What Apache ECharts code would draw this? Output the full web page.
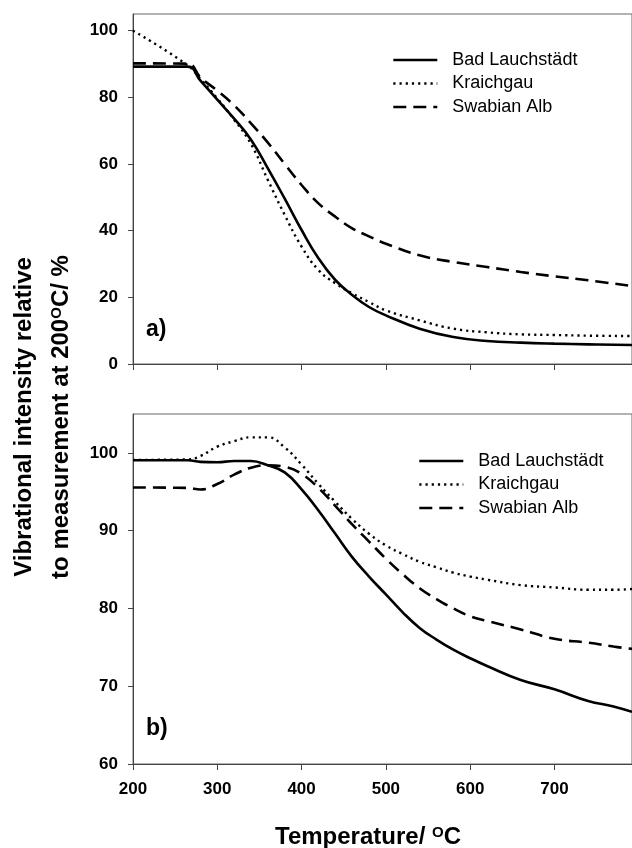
<!DOCTYPE html>
<html>
<head>
<meta charset="utf-8">
<script src="https://cdn.jsdelivr.net/npm/echarts@6/dist/echarts.min.js"></script>
<style>
html,body{margin:0;padding:0;background:#fff;}
#chart{width:632px;height:848px;}
</style>
</head>
<body>
<div id="chart"></div>
<script>
// ---------- data ----------
const seriesNames = ['Bad Lauchstädt', 'Kraichgau', 'Swabian Alb'];

// panel a)
const tempA = [200, 265, 280, 300, 320, 340, 360, 380, 400, 420, 440, 460, 480, 500, 540, 580, 620, 660, 700, 740, 792];
const badA  = [89.2, 89.2, 85.0, 79.3, 73.6, 67.3, 58.7, 49.6, 40.2, 31.7, 25.2, 20.7, 17.1, 14.6, 10.6, 8.1, 6.9, 6.4, 6.1, 5.9, 5.7];
const kraA  = [100, 89.6, 85.5, 79.7, 73.3, 66.0, 55.2, 44.7, 35.2, 28.2, 24.2, 21.2, 18.6, 16.1, 13.1, 10.6, 9.5, 8.9, 8.7, 8.5, 8.4];
const swaA  = [90.2, 90.1, 86.0, 82.0, 77.6, 72.2, 66.4, 60.0, 53.7, 48.2, 44.2, 40.7, 38.3, 36.1, 32.6, 30.6, 29.1, 27.6, 26.3, 25.1, 23.4];

// panel b)
const tempB = [200, 265, 280, 300, 320, 340, 360, 380, 400, 420, 440, 460, 480, 500, 520, 540, 560, 580, 600, 620, 660, 700, 740, 770, 792];
const badB  = [99.05, 99.05, 98.85, 98.8, 98.95, 98.95, 98.4, 97.5, 95.3, 92.6, 89.6, 86.6, 84.1, 81.8, 79.5, 77.5, 76.0, 74.7, 73.6, 72.6, 70.8, 69.6, 68.1, 67.4, 66.7];
const kraB  = [99.1, 99.15, 99.6, 100.8, 101.5, 102.0, 102.0, 100.7, 98.5, 96.0, 93.7, 91.5, 89.6, 88.1, 87.0, 86.0, 85.3, 84.6, 84.1, 83.7, 83.0, 82.7, 82.4, 82.4, 82.5];
const swaB  = [95.55, 95.5, 95.3, 96.0, 97.2, 98.1, 98.4, 98.2, 97.3, 95.5, 93.2, 90.8, 88.6, 86.4, 84.4, 82.6, 81.2, 80.0, 79.0, 78.4, 77.3, 76.1, 75.6, 75.1, 74.8];

const xTicks  = [200, 300, 400, 500, 600, 700];
const yTicksA = [0, 20, 40, 60, 80, 100];
const yTicksB = [60, 70, 80, 90, 100];

// ---------- chart ----------
const FONT = '"Liberation Sans", Arial, sans-serif';
const zip = (xs, ys) => xs.map((x, i) => [x, ys[i]]);

const styles = [
  { type: 'solid', width: 2.6 },
  { type: [2.2, 4], width: 2.4 },
  { type: [13, 7], width: 2.6 }
];

function makeSeries(idx, xs, ysList) {
  return ysList.map((ys, i) => ({
    name: seriesNames[i],
    type: 'line',
    xAxisIndex: idx,
    yAxisIndex: idx,
    data: zip(xs, ys),
    symbol: 'none',
    showSymbol: false,
    smooth: 0.45,
    lineStyle: Object.assign({ color: '#000' }, styles[i]),
    itemStyle: { color: '#000' },
    animation: false
  }));
}

const axisLine = { show: true, lineStyle: { color: '#444', width: 1 } };

function xAxisCfg(idx, showLabels) {
  return {
    type: 'value', gridIndex: idx, min: 200, max: 792, interval: 100,
    axisLine: axisLine,
    axisTick: { show: true, inside: false, length: 6, lineStyle: { color: '#444' }, customValues: xTicks },
    axisLabel: showLabels ? { show: true, customValues: xTicks, fontFamily: FONT, fontWeight: 'bold', fontSize: 17, color: '#000', margin: 17 } : { show: false },
    splitLine: { show: false }
  };
}
function yAxisCfg(idx, min, max, interval, ticks) {
  return {
    type: 'value', gridIndex: idx, min: min, max: max, interval: interval,
    axisLine: axisLine,
    axisTick: { show: true, inside: false, length: 5, lineStyle: { color: '#444' }, customValues: ticks },
    axisLabel: { show: true, customValues: ticks, fontFamily: FONT, fontWeight: 'bold', fontSize: 17, color: '#000', margin: 15 },
    splitLine: { show: false }
  };
}

const legendBase = {
  orient: 'vertical', itemWidth: 44, itemHeight: 14, itemGap: 5.5, padding: 0,
  selectedMode: false, data: seriesNames,
  itemStyle: { opacity: 0, borderWidth: 0 },
  lineStyle: { width: 2.6 },
  textStyle: { fontFamily: FONT, fontSize: 18, color: '#000', padding: [0, 0, 0, 10] }
};

const rich = {
  n: { fontFamily: FONT, fontWeight: 'bold', fontSize: 24, color: '#000' },
  s: { fontFamily: FONT, fontWeight: 'bold', fontSize: 15, color: '#000', verticalAlign: 'top' }
};

const option = {
  backgroundColor: '#fff',
  animation: false,
  grid: [
    { left: 133, right: -2, top: 14, height: 350, show: true, borderColor: '#666', borderWidth: 1 },
    { left: 133, right: -2, top: 414, height: 350, show: true, borderColor: '#666', borderWidth: 1 }
  ],
  xAxis: [xAxisCfg(0, false), xAxisCfg(1, true)],
  yAxis: [yAxisCfg(0, 0, 105, 20, yTicksA), yAxisCfg(1, 60, 105, 10, yTicksB)],
  legend: [
    Object.assign({}, legendBase, { left: 392, top: 51 }),
    Object.assign({}, legendBase, { left: 418, top: 452 })
  ],
  series: [].concat(
    makeSeries(0, tempA, [badA, kraA, swaA]),
    makeSeries(1, tempB, [badB, kraB, swaB])
  ),
  graphic: [
    { type: 'text', left: 146, top: 318, style: { text: 'a)', font: 'bold 23px ' + FONT, fill: '#000' } },
    { type: 'text', left: 146, top: 717, style: { text: 'b)', font: 'bold 23px ' + FONT, fill: '#000' } },
    { type: 'text', x: 368, y: 837, style: { text: '{n|Temperature/ }{s|O}{n|C}', rich: rich, align: 'center', verticalAlign: 'middle' } },
    { type: 'text', x: 24, y: 417, rotation: Math.PI / 2, style: { text: '{n|Vibrational intensity relative}', rich: rich, align: 'center', verticalAlign: 'middle' } },
    { type: 'text', x: 61, y: 417, rotation: Math.PI / 2, style: { text: '{n|to measurement at 200}{s|O}{n|C/ %}', rich: rich, align: 'center', verticalAlign: 'middle' } }
  ]
};

const chart = echarts.init(document.getElementById('chart'), null, { renderer: 'canvas' });
chart.setOption(option);
</script>
</body>
</html>
